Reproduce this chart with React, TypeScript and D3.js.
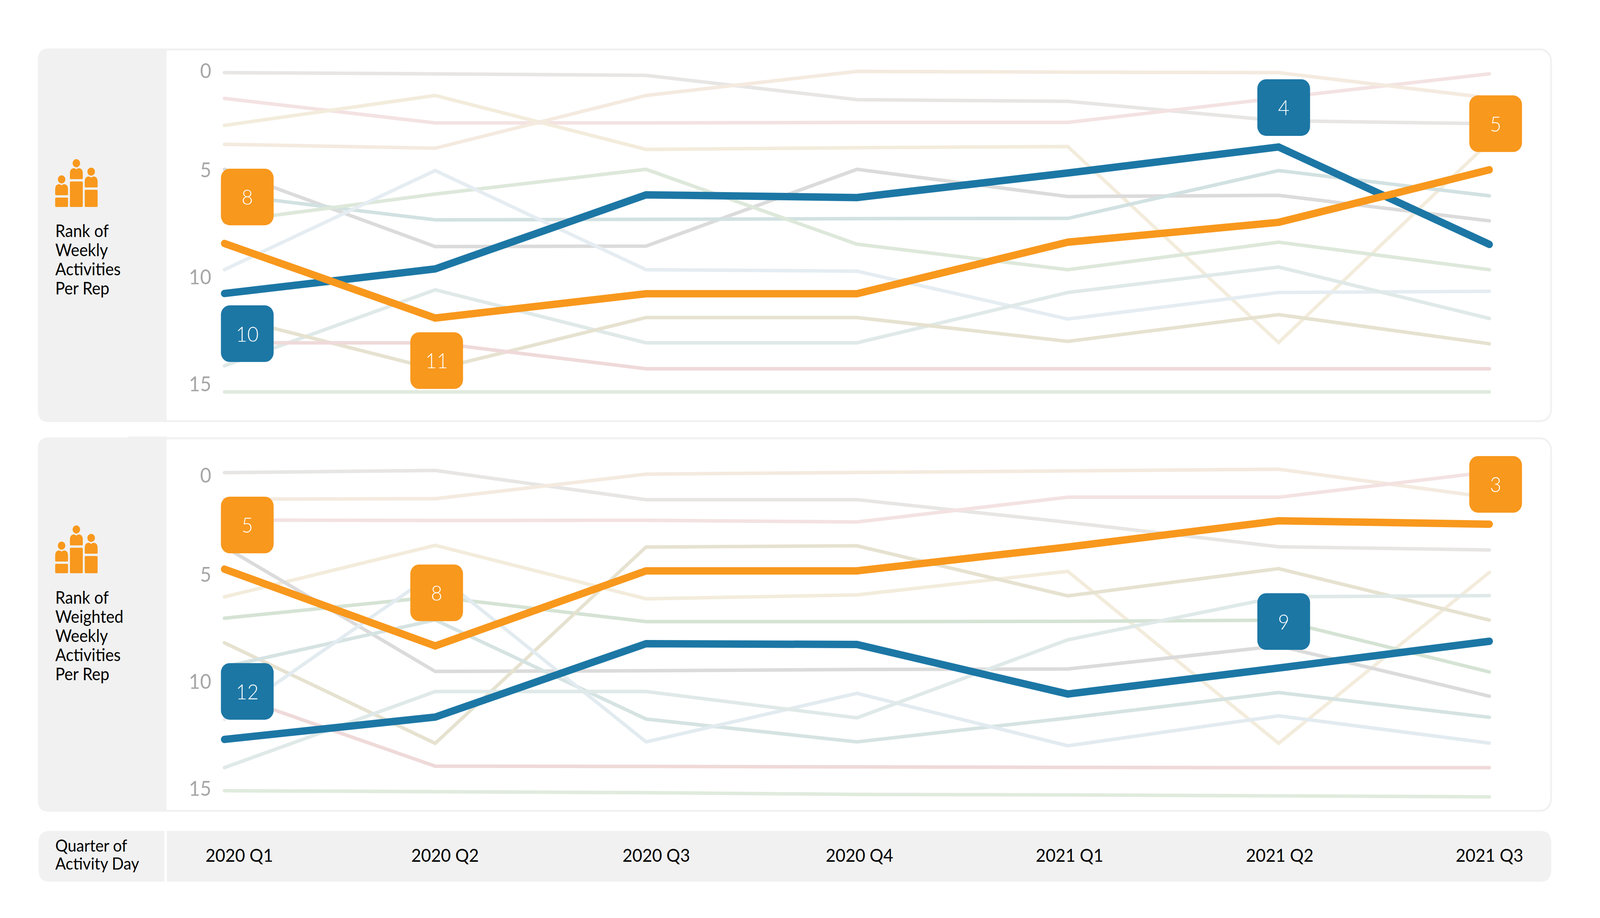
import React from "react";
import * as d3 from "d3";

const quarters = ["2020 Q1", "2020 Q2", "2020 Q3", "2020 Q4", "2021 Q1", "2021 Q2", "2021 Q3"];
const yTicks = [0, 5, 10, 15];

const weeklyGrayLight = [1.0, 1.05, 1.11, 2.1, 2.17, 2.96, 3.08];
const weeklyPink = [2.05, 3.05, 3.05, 3.03, 3.03, 2.03, 1.05];
const weeklyBeige = [3.15, 1.93, 4.13, 4.06, 4.01, 12.0, 3.82];
const weeklyPeach = [3.92, 4.08, 1.93, 0.95, 0.98, 1.0, 2.03];
const weeklyGrayDark = [4.94, 8.09, 8.07, 4.94, 6.05, 6.0, 7.04];
const weeklyTeal = [5.96, 7.0, 6.98, 6.95, 6.94, 4.99, 6.02];
const weeklyGreen = [7.08, 5.95, 4.94, 7.99, 9.03, 7.91, 9.03];
const weeklySky = [9.03, 4.99, 9.03, 9.09, 11.04, 9.96, 9.91];
const weeklyPaleTeal = [12.95, 9.85, 12.01, 12.01, 9.96, 8.92, 11.02];
const weeklyKhaki = [10.91, 13.09, 10.98, 10.98, 11.95, 10.86, 12.05];
const weeklyRose = [12.01, 12.01, 13.07, 13.07, 13.07, 13.07, 13.07];
const weeklyPaleGreen = [14.01, 14.01, 14.01, 14.01, 14.01, 14.01, 14.01];
const weeklyBlue = [10.0, 9.0, 5.98, 6.09, 5.09, 4.03, 8.0];
const weeklyOrange = [7.96, 11.0, 10.01, 10.01, 7.91, 7.1, 4.96];

const weightedGrayLight = [1.04, 0.95, 2.14, 2.14, 3.06, 4.06, 4.19];
const weightedPeach = [2.12, 2.1, 1.1, 1.03, 0.97, 0.9, 2.05];
const weightedPink = [2.97, 2.99, 2.98, 3.05, 2.04, 2.04, 1.01];
const weightedBeige = [6.1, 4.0, 6.18, 6.02, 5.06, 12.07, 5.1];
const weightedGrayDark = [4.06, 9.14, 9.11, 9.06, 9.04, 8.1, 10.15];
const weightedGreen = [6.97, 6.1, 7.11, 7.11, 7.1, 7.05, 9.16];
const weightedKhaki = [7.97, 12.07, 4.07, 4.02, 6.06, 4.95, 7.05];
const weightedTeal = [8.95, 7.04, 11.08, 12.01, 11.04, 10.0, 11.01];
const weightedSky = [11.09, 5.12, 12.01, 10.03, 12.17, 10.95, 12.06];
const weightedPaleTeal = [13.06, 9.96, 9.96, 11.03, 7.85, 6.1, 6.05];
const weightedRose = [10.0, 13.0, 13.01, 13.03, 13.05, 13.06, 13.06];
const weightedPaleGreen = [14.0, 14.04, 14.08, 14.15, 14.17, 14.21, 14.25];
const weightedBlue = [11.91, 11.0, 8.01, 8.04, 10.06, 9.0, 7.91];
const weightedOrange = [4.97, 8.1, 5.04, 5.04, 4.07, 3.0, 3.14];

const weeklyCallouts = [
  { series: "orange", q: 0, text: "8" },
  { series: "blue", q: 0, text: "10" },
  { series: "orange", q: 1, text: "11" },
  { series: "blue", q: 5, text: "4" },
  { series: "orange", q: 6, text: "5" },
];
const weightedCallouts = [
  { series: "orange", q: 0, text: "5" },
  { series: "blue", q: 0, text: "12" },
  { series: "orange", q: 1, text: "8" },
  { series: "blue", q: 5, text: "9" },
  { series: "orange", q: 6, text: "3" },
];

const ORANGE = "#f8981d";
const BLUE = "#1c77a5";
const GRAY = "#f1f1f1";
const FONT = "Lato, sans-serif";

const xScale = d3.scalePoint<string>().domain(quarters).range([617, 4096]);
const quarterLabelShift = [41, 27, 28, 7, 5, 3, 0];
const calloutShiftsA = [[63, -119], [63, 103], [4, 109], [14, -101], [17, -118]];
const calloutShiftsB = [[63, -113], [63, -123], [4, -136], [14, -119], [17, -102]];
const tickOffsets = [0, 254, 528, 802];

function Person({ x, head, bodyTop, bodyBottom, base }: any) {
  const w = 35.4;
  const mid = x + w / 2;
  const body = `M${x + 2},${bodyBottom} Q${x},${bodyBottom} ${x},${bodyBottom - 2}
    V${bodyTop + 14} Q${x},${bodyTop} ${x + 11},${bodyTop}
    Q${mid - 3},${bodyTop} ${mid},${bodyTop + 3} Q${mid + 3},${bodyTop} ${x + w - 11},${bodyTop}
    Q${x + w},${bodyTop} ${x + w},${bodyTop + 14} V${bodyBottom - 2}
    Q${x + w},${bodyBottom} ${x + w - 2},${bodyBottom} Z`;
  return (
    <g fill={ORANGE}>
      <circle cx={mid} cy={head} r={10.4} />
      <path d={body} />
      <rect x={x} y={bodyBottom + 6} width={w} height={base - bodyBottom - 6} rx={2.5} />
    </g>
  );
}

function Icon({ bottom }: { bottom: number }) {
  return (
    <g>
      <Person x={151.7} head={bottom - 70.7} bodyTop={bottom - 58.3} bodyBottom={bottom - 30} base={bottom} />
      <Person x={192.3} head={bottom - 112} bodyTop={bottom - 99.3} bodyBottom={bottom - 71.3} base={bottom} />
      <Person x={233} head={bottom - 90.3} bodyTop={bottom - 78} bodyBottom={bottom - 50} base={bottom} />
    </g>
  );
}

function Panel({ top, bottom, rank1, tickTop, title, titleBaseline, iconBottom, thin, blue, orange, callouts, shifts }: any) {
  const y = d3.scaleLinear().domain([1, 14]).range([rank1, rank1 + 817]);
  const line = d3
    .line<number>()
    .x((_, i) => xScale(quarters[i]) as number)
    .y((v) => y(v));
  const series: any = { blue, orange };
  return (
    <g>
      <rect x={106.5} y={top + 2.5} width={4159} height={bottom - top - 5} rx={30} fill="#fff" stroke={GRAY} strokeWidth={5} />
      <path
        d={`M458,${top} H134 Q104,${top} 104,${top + 30} V${bottom - 30} Q104,${bottom} 134,${bottom} H458 Z`}
        fill={GRAY}
      />
      <Icon bottom={iconBottom} />
      <text x={152} y={titleBaseline} fontFamily={FONT} fontSize={44} fill="#000">
        {title.map((t: string, i: number) => (
          <tspan key={t} x={152} y={titleBaseline + i * 49}>
            {t}
          </tspan>
        ))}
      </text>
      {yTicks.map((t, i) => (
        <text key={t} x={581} y={tickTop + tickOffsets[i] + 19} textAnchor="end" fontFamily={FONT} fontSize={53} fill="#a6a6a6">
          {t}
        </text>
      ))}
      {thin.map(([values, color]: any, i: number) => (
        <path key={i} d={line(values) as string} fill="none" stroke={color} strokeWidth={9} strokeLinecap="round" strokeLinejoin="miter" />
      ))}
      <path d={line(blue) as string} fill="none" stroke={BLUE} strokeWidth={19} strokeLinecap="round" />
      <path d={line(orange) as string} fill="none" stroke={ORANGE} strokeWidth={19} strokeLinecap="round" />
      {callouts.map((c: any, i: number) => {
        const cx = (xScale(quarters[c.q]) as number) + shifts[i][0];
        const cy = y(series[c.series][c.q]) + shifts[i][1];
        return (
          <g key={i}>
            <rect x={cx - 72.5} y={cy - 72.5} width={145} height={145} rx={24} fill={c.series === "blue" ? BLUE : ORANGE} />
            <text x={cx} y={cy + 20} textAnchor="middle" fontFamily={FONT} fontWeight={300} fontSize={54} fill="#fff">
              {c.text}
            </text>
          </g>
        );
      })}
    </g>
  );
}

export default function App() {
  const thinA = [
    [weeklyGrayLight, "#e7e6e4"],
    [weeklyPink, "#f4e2e2"],
    [weeklyBeige, "#f3ecdc"],
    [weeklyPeach, "#f4eadf"],
    [weeklyGrayDark, "#dcdbdb"],
    [weeklyTeal, "#d2e1e1"],
    [weeklyGreen, "#dde8da"],
    [weeklySky, "#e5edf2"],
    [weeklyPaleTeal, "#dfe9e8"],
    [weeklyKhaki, "#e6e2d0"],
    [weeklyRose, "#efd9d9"],
    [weeklyPaleGreen, "#e0ebdd"],
  ];
  const thinB = [
    [weightedGrayLight, "#e7e6e4"],
    [weightedPeach, "#f4eadf"],
    [weightedPink, "#f4e2e2"],
    [weightedBeige, "#f3ecdc"],
    [weightedGrayDark, "#dcdbdb"],
    [weightedGreen, "#d5e3d4"],
    [weightedKhaki, "#e6e2d0"],
    [weightedTeal, "#d5e3e2"],
    [weightedSky, "#e2ebf0"],
    [weightedPaleTeal, "#dfe9e8"],
    [weightedRose, "#efd9d9"],
    [weightedPaleGreen, "#e0ebdd"],
  ];
  return (
    <svg
      viewBox="0 0 4400 2351"
      preserveAspectRatio="none"
      style={{ position: "absolute", left: 0, top: 0, width: "100vw", height: "100vh", display: "block" }}
    >
      <rect width={4400} height={2351} fill="#fff" />
      <Panel
        top={124}
        bottom={1081}
        rank1={186}
        tickTop={181}
        title={["Rank of", "Weekly", "Activities", "Per Rep"]}
        titleBaseline={607}
        iconBottom={530}
        thin={thinA}
        blue={weeklyBlue}
        orange={weeklyOrange}
        callouts={weeklyCallouts}
        shifts={calloutShiftsA}
      />
      <rect x={352} y={1118} width={106} height={8} fill={GRAY} />
      <Panel
        top={1120}
        bottom={2079}
        rank1={1208}
        tickTop={1217}
        title={["Rank of", "Weighted", "Weekly", "Activities", "Per Rep"]}
        titleBaseline={1546}
        iconBottom={1468}
        thin={thinB}
        blue={weightedBlue}
        orange={weightedOrange}
        callouts={weightedCallouts}
        shifts={calloutShiftsB}
      />
      <path d="M452,2128 H136 Q106,2128 106,2158 V2228 Q106,2258 136,2258 H452 Z" fill={GRAY} />
      <path d="M459,2128 H4236 Q4266,2128 4266,2158 V2228 Q4266,2258 4236,2258 H459 Z" fill={GRAY} />
      <text fontFamily={FONT} fontSize={43} fill="#000">
        <tspan x={152} y={2181}>Quarter of</tspan>
        <tspan x={152} y={2227}>Activity Day</tspan>
      </text>
      {quarters.map((q, i) => (
        <text key={q} x={(xScale(q) as number) + quarterLabelShift[i]} y={2207} textAnchor="middle" fontFamily={FONT} fontSize={47} fill="#000">
          {q}
        </text>
      ))}
    </svg>
  );
}
